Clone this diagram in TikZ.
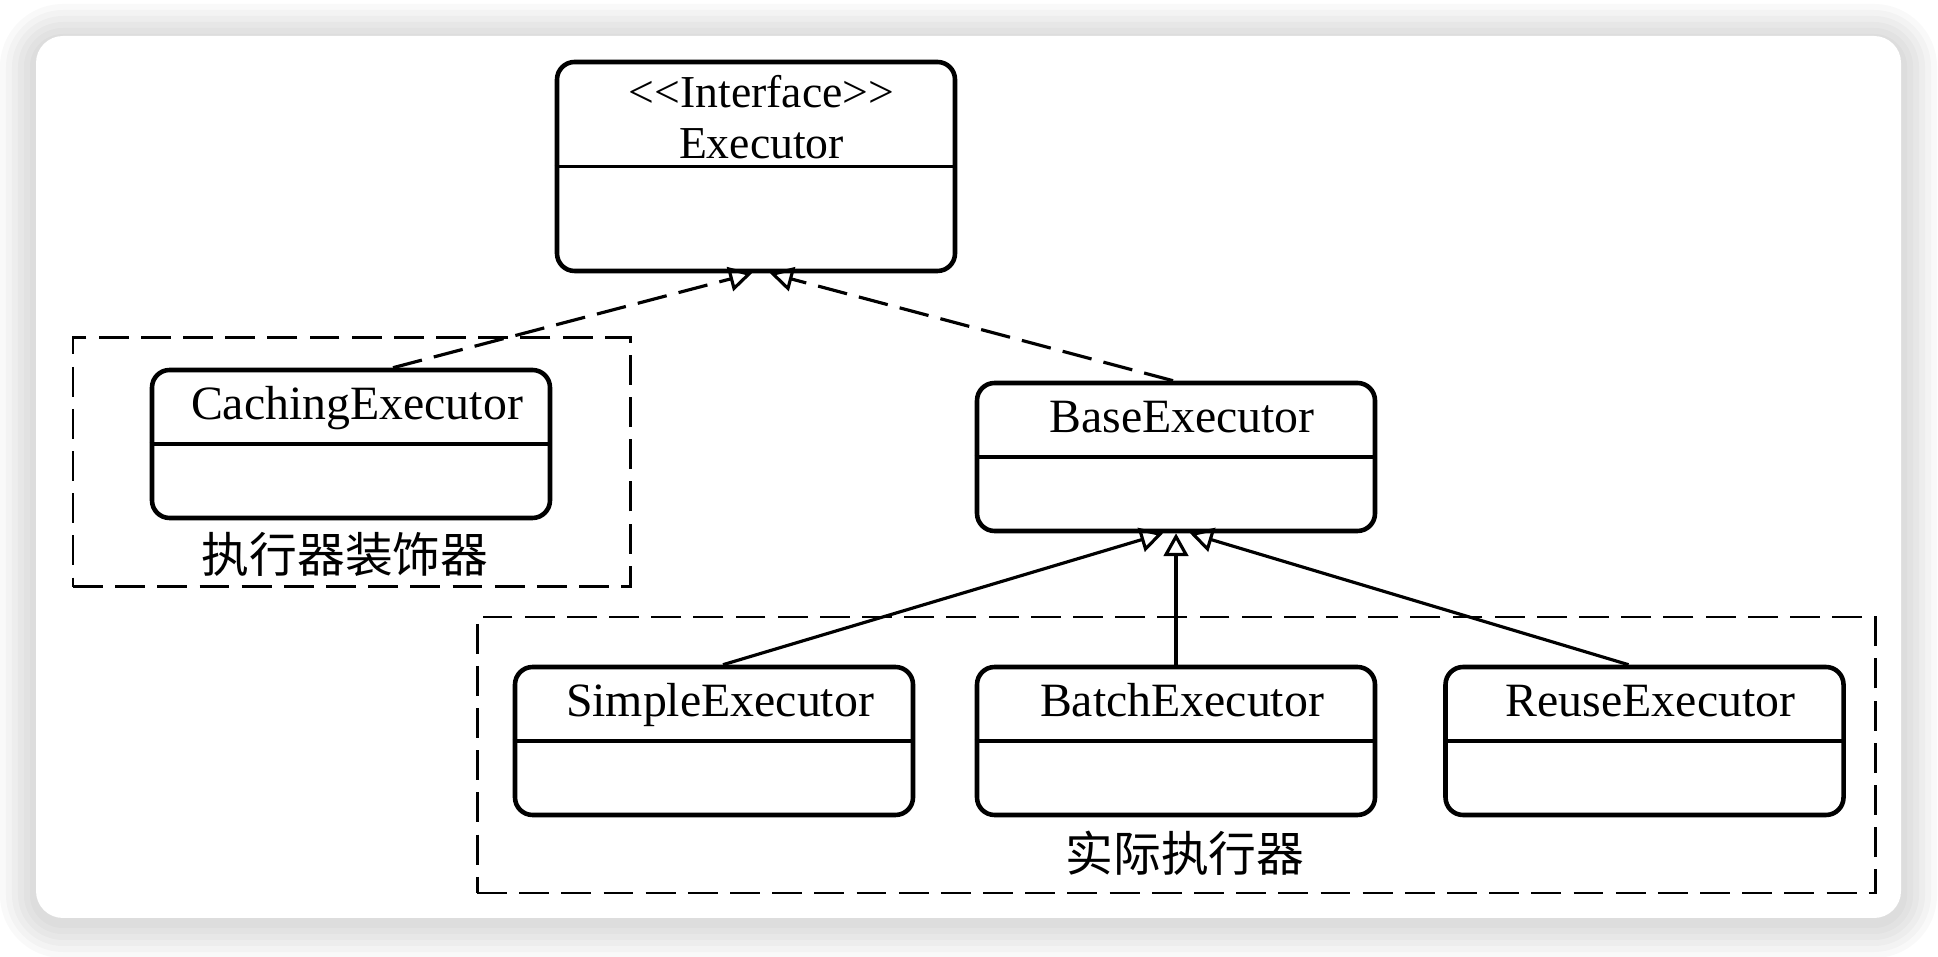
\documentclass[tikz,border=0pt]{standalone}
\usepackage{fontspec}
\setmainfont{Liberation Serif}
\newfontfamily\cjk{Noto Sans CJK SC}
\usetikzlibrary{arrows.meta}

\begin{document}
\begin{tikzpicture}[
  umlbox/.style={draw, line width=1.3pt, rounded corners=5pt, minimum width=3.98cm, minimum height=1.48cm, inner sep=0pt},
  classname/.style={anchor=base, inner sep=0pt, font=\fontsize{13.6pt}{16pt}\selectfont},
  groupbox/.style={draw, line width=0.85pt, dash pattern=on 8.5pt off 3.5pt, inner sep=0pt},
  grouplabel/.style={inner sep=0pt, font=\cjk\fontsize{13.6pt}{16pt}\selectfont},
  realize/.style={line width=0.9pt, dash pattern=on 8.5pt off 3.5pt, -{Triangle[open, length=6.5pt, width=7pt]}},
  generalize/.style={line width=0.9pt, -{Triangle[open, length=6.5pt, width=7pt]}}
]
\useasboundingbox (0,0) rectangle (19.38,9.56);

%card shadow
\fill[black, opacity=0.022, rounded corners=0.63cm] (0.00,-0.02) rectangle (19.37,9.52);
\fill[black, opacity=0.022, rounded corners=0.57cm] (0.06,0.04) rectangle (19.31,9.46);
\fill[black, opacity=0.022, rounded corners=0.51cm] (0.12,0.10) rectangle (19.25,9.40);
\fill[black, opacity=0.022, rounded corners=0.45cm] (0.18,0.16) rectangle (19.19,9.34);
\fill[black, opacity=0.022, rounded corners=0.39cm] (0.24,0.22) rectangle (19.13,9.28);
\fill[black, opacity=0.022, rounded corners=0.33cm] (0.30,0.28) rectangle (19.07,9.22);

%card
\fill[white, rounded corners=0.27cm] (0.36,0.38) rectangle (19.01,9.20);

%groups
\node[groupbox, minimum width=5.57cm, minimum height=2.49cm] (decogroup) at (3.515,4.935) {};
\node[grouplabel] (decolabel) at (3.45,4.02) {执行器装饰器};
\node[groupbox, minimum width=13.98cm, minimum height=2.76cm] (realgroup) at (11.76,2.01) {};
\node[grouplabel] (reallabel) at (11.85,1.03) {实际执行器};

%classes
\node[umlbox, minimum height=2.09cm] (exec) at (7.56,7.895) {};
\node[umlbox] (caching) at (3.51,5.12) {};
\node[umlbox] (base) at (11.76,4.99) {};
\node[umlbox] (simple) at (7.14,2.15) {};
\node[umlbox] (batch) at (11.76,2.15) {};
\node[umlbox] (reuse) at (16.445,2.15) {};

\draw[line width=1.1pt] (exec.west) -- (exec.east);
\draw[line width=1.1pt] (caching.west) -- (caching.east);
\draw[line width=1.1pt] (base.west) -- (base.east);
\draw[line width=1.1pt] (simple.west) -- (simple.east);
\draw[line width=1.1pt] (batch.west) -- (batch.east);
\draw[line width=1.1pt] (reuse.west) -- (reuse.east);

\node[classname, anchor=center, align=center, font=\fontsize{13pt}{14.5pt}\selectfont] (execname) at ([xshift=0.055cm, yshift=-0.57cm]exec.north) {<\kern0pt<Interface>\kern0pt>\\Executor};
\node[classname] (cachingname) at ([xshift=0.06cm, yshift=-0.52cm]caching.north) {CachingExecutor};
\node[classname] (basename) at ([xshift=0.06cm, yshift=-0.52cm]base.north) {BaseExecutor};
\node[classname] (simplename) at ([xshift=0.06cm, yshift=-0.52cm]simple.north) {SimpleExecutor};
\node[classname] (batchname) at ([xshift=0.06cm, yshift=-0.52cm]batch.north) {BatchExecutor};
\node[classname] (reusename) at ([xshift=0.06cm, yshift=-0.52cm]reuse.north) {ReuseExecutor};

%relations
\draw[realize] ([xshift=0.42cm]caching.north) -- ([xshift=-0.04cm]exec.south);
\draw[realize] ([xshift=-0.03cm]base.north) -- ([xshift=0.14cm]exec.south);
\draw[generalize] ([xshift=0.09cm]simple.north) -- ([xshift=-0.13cm]base.south);
\draw[generalize] (batch.north) -- (base.south);
\draw[generalize] ([xshift=-0.16cm]reuse.north) -- ([xshift=0.14cm]base.south);

\end{tikzpicture}
\end{document}
